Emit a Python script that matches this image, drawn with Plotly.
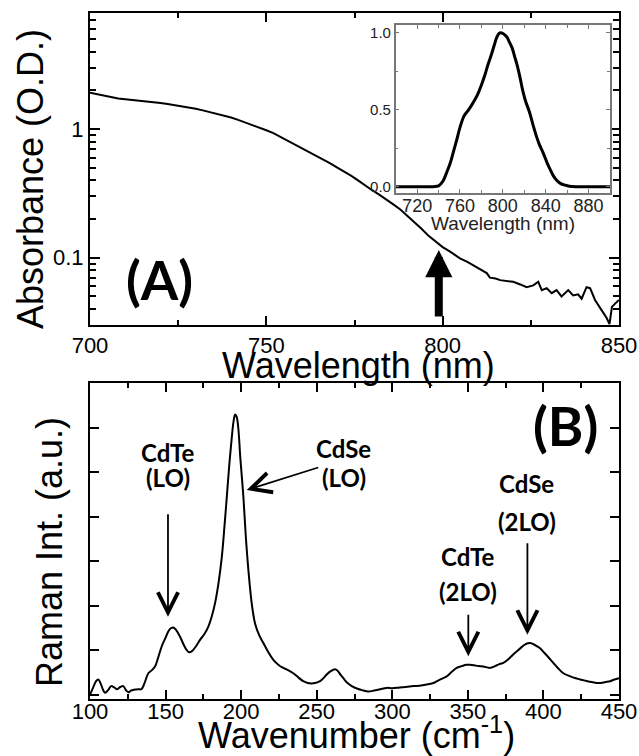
import plotly.graph_objects as go
import numpy as np

# ---------------- data ----------------
abs_wl = [700, 702, 704, 706, 708, 710, 712, 714, 716, 718, 720, 722, 724, 726, 728,
          730, 732, 734, 736, 738, 740, 742, 744, 746, 748, 750, 752, 754, 756, 758,
          760, 762, 764, 766, 768, 770, 772, 774, 776, 778, 780, 782, 784, 786, 788,
          790, 792, 794, 796, 798, 800, 802, 804.9, 807, 809.6, 811, 812.5, 813.4, 815,
          816.3, 818, 820, 822, 823.8, 825.7, 827.1, 828.1, 829.5, 830.9, 832.3, 833.7,
          835.6, 837, 838.4, 839.4, 840.8, 841.8, 843.2, 845.1, 846.5, 847.3, 848,
          848.9, 850]
abs_od = [1.92, 1.87, 1.82, 1.77, 1.73, 1.71, 1.69, 1.67, 1.64, 1.62, 1.60, 1.57, 1.54, 1.51, 1.48,
          1.44, 1.40, 1.36, 1.32, 1.27, 1.23, 1.18, 1.13, 1.08, 1.03, 0.98, 0.93, 0.87, 0.82, 0.77,
          0.72, 0.67, 0.63, 0.585, 0.545, 0.505, 0.47, 0.435, 0.40, 0.365, 0.335, 0.31, 0.285, 0.26, 0.237,
          0.212, 0.19, 0.168, 0.148, 0.133, 0.121, 0.112, 0.099, 0.093, 0.085, 0.081, 0.076, 0.070, 0.069,
          0.067, 0.066, 0.065, 0.062, 0.059, 0.061, 0.065, 0.056, 0.058, 0.053, 0.056, 0.050,
          0.056, 0.051, 0.052, 0.048, 0.059, 0.058, 0.047, 0.039, 0.034, 0.0305, 0.0415,
          0.044, 0.047]

pl_wl = [700, 720, 735, 740, 744, 748, 751, 754, 757, 760, 763.7, 767, 770, 773, 776.5,
         780, 783, 786, 789.4, 792, 794.2, 796.5, 798, 800, 802, 804, 806, 808.7, 811,
         813.5, 816, 818.3, 821, 824.8, 828, 831.2, 834, 837.6, 841, 844, 847, 850.4,
         854, 858, 862, 870, 900]
pl_int = [0, 0, 0, 0.005, 0.035, 0.10, 0.155, 0.23, 0.305, 0.385, 0.458, 0.49, 0.52, 0.555, 0.60,
          0.66, 0.72, 0.79, 0.86, 0.92, 0.968, 0.995, 1.0, 0.995, 0.985, 0.97, 0.94, 0.90, 0.845,
          0.785, 0.71, 0.632, 0.56, 0.485, 0.405, 0.33, 0.275, 0.22, 0.16, 0.114, 0.072, 0.04,
          0.02, 0.01, 0.003, 0, 0]

raman_wn = [100, 102, 104, 105.5, 107, 109, 110, 112, 114, 116, 118, 120, 122, 124, 125.5,
            127, 129, 132, 134, 136, 138.6, 141, 143, 145, 147.4, 150, 151.8, 153.5, 155.1,
            157, 159.6, 162, 164, 165.5, 167.3, 170, 172.8, 175.5, 178.3, 180.5, 182.7, 185,
            187.2, 189, 190.5, 192, 193.8, 195, 196, 197, 198.1, 199.5, 201.5, 203, 204.8,
            207, 209.2, 212, 214.7, 218, 221.3, 225, 227.9, 231, 234.5, 238, 241.1, 244,
            246.6, 249, 252.2, 254.5, 256.6, 259, 262.1, 264, 265.7, 267.6, 270, 273.2, 277,
            280, 284.2, 288, 292, 296.3, 300, 305, 309, 313.9, 318, 322, 327.2, 330, 333,
            336, 339, 342.6, 346, 349, 351.4, 354, 357, 360.2, 364.7, 368, 370.5, 373.5,
            377, 380, 382.3, 385, 388, 391.2, 394, 397.8, 400, 403, 406.6, 410, 413.2, 417,
            420, 424.3, 428, 432, 435.3, 438, 441, 444.1, 447, 450]
raman_int = [0.0, 0.15, 0.30, 0.34, 0.25, 0.08, 0.04, 0.10, 0.19, 0.16, 0.12, 0.17, 0.19, 0.09, 0.05,
             0.09, 0.11, 0.12, 0.12, 0.25, 0.48, 0.55, 0.63, 0.82, 1.08, 1.28, 1.42, 1.49, 1.51,
             1.45, 1.30, 1.12, 1.00, 0.95, 0.97, 1.08, 1.23, 1.35, 1.53, 1.75, 2.05, 2.5,
             3.09, 3.8, 4.44, 5.1, 5.78, 6.15, 6.3, 6.25, 6.0, 5.3, 4.44, 3.6, 2.8,
             2.05, 1.6, 1.33, 1.16, 0.95, 0.78, 0.66, 0.60, 0.55, 0.48, 0.38, 0.30, 0.26,
             0.25, 0.26, 0.30, 0.37, 0.45, 0.52, 0.57, 0.53, 0.45, 0.37, 0.27, 0.19, 0.13,
             0.10, 0.07, 0.09, 0.12, 0.15, 0.14, 0.16, 0.17, 0.19, 0.20, 0.22, 0.26, 0.31, 0.36,
             0.41, 0.50, 0.60, 0.64, 0.67, 0.67, 0.66, 0.64, 0.63, 0.60, 0.64, 0.68, 0.71,
             0.80, 0.90, 0.97, 1.05, 1.13, 1.16, 1.12, 1.04, 0.96, 0.85, 0.71, 0.58, 0.48, 0.42,
             0.38, 0.34, 0.31, 0.28, 0.26, 0.26, 0.28, 0.30, 0.34, 0.37]

top_xticks = [700, 750, 800, 850]
top_yticks = [0.1, 1]
top_yminor = [0.03, 0.04, 0.05, 0.06, 0.07, 0.08, 0.09,
              0.2, 0.3, 0.4, 0.5, 0.6, 0.7, 0.8, 0.9,
              2, 3, 4, 5, 6, 7, 8]
inset_xticks = [720, 760, 800, 840, 880]
inset_yticks = [0.0, 0.5, 1.0]
inset_yticklabels = ["0.0", "0.5", "1.0"]
bot_xticks = [100, 150, 200, 250, 300, 350, 400, 450]
bot_yticks = [0, 1, 2, 3, 4, 5, 6]

# peak labels: (text line 1, text line 2, label x, y1, y2, arrow tip x, tip y, ax, ay)
peak_labels = [
    ("CdTe", "(LO)", 151.6, 5.45, 4.89, 151.6, 1.75, 0, -104),
    ("CdSe", "(LO)", 268.0, 5.54, 4.89, 203.7, 4.60, 73, -23),
    ("CdTe", "(2LO)", 350.3, 3.10, 2.32, 350.3, 0.86, 0, -43),
    ("CdSe", "(2LO)", 388.9, 4.75, 3.89, 389.4, 1.345, 0, -93),
]

SANS = "Liberation Sans, Arial, sans-serif"
BOLD = "Lato, Open Sans, sans-serif"
TITLE_SIZE = 36

fig = go.Figure()
fig.add_trace(go.Scatter(x=abs_wl, y=abs_od, mode="lines",
                         line=dict(color="black", width=2), xaxis="x", yaxis="y",
                         showlegend=False))
fig.add_trace(go.Scatter(x=pl_wl, y=pl_int, mode="lines", line_shape="spline",
                         line=dict(color="black", width=3), xaxis="x3", yaxis="y3",
                         showlegend=False))
fig.add_trace(go.Scatter(x=raman_wn, y=raman_int, mode="lines", line_shape="spline",
                         line=dict(color="black", width=2), xaxis="x2", yaxis="y2",
                         showlegend=False))

axis_common = dict(showline=True, linecolor="black", linewidth=2, mirror="ticks",
                   ticks="inside", tickcolor="black", tickwidth=1.5, showgrid=False,
                   zeroline=False, tickfont=dict(family=SANS, size=22, color="black"))
inset_common = dict(showline=True, linecolor="#777777", linewidth=1.5, mirror="ticks",
                    ticks="inside", tickcolor="#777777", ticklen=4, showgrid=False,
                    zeroline=False)

fig.update_layout(
    width=639, height=756,
    margin=dict(l=90, r=20, t=13, b=57, autoexpand=False),
    paper_bgcolor="white", plot_bgcolor="white",
    font=dict(family=SANS, color="black"),
    xaxis=dict(domain=[0, 1], anchor="y", range=[700, 850], tickmode="array",
               tickvals=top_xticks, ticklen=9,
               minor=dict(ticks="inside", dtick=25, ticklen=5, tickcolor="black", tickwidth=1.5),
               **axis_common),
    yaxis=dict(domain=[0.5452, 1], anchor="x", type="log",
               range=[np.log10(0.03), np.log10(8)], tickmode="array",
               tickvals=top_yticks, ticktext=["0.1", "1"], ticklen=10,
               minor=dict(ticks="inside", tickmode="array", tickvals=top_yminor,
                          ticklen=6, tickcolor="black", tickwidth=1.5),
               **axis_common),
    xaxis2=dict(domain=[0, 1], anchor="y2", range=[100, 450], tickmode="array",
                tickvals=bot_xticks, ticklen=9, ticklabelstandoff=-8,
                minor=dict(ticks="inside", dtick=25, ticklen=5, tickcolor="black", tickwidth=1.5),
                **axis_common),
    yaxis2=dict(domain=[0, 0.4602], anchor="x2", range=[-0.1, 7], tickmode="array",
                tickvals=bot_yticks, ticklen=9, showticklabels=False,
                **axis_common),
    xaxis3=dict(domain=[0.5779, 0.983], anchor="y3", range=[700, 900], tickmode="array",
                tickvals=inset_xticks,
                minor=dict(ticks="inside", dtick=20, ticklen=3, tickcolor="#777777"),
                tickfont=dict(family=SANS, size=18, color="#222222"),
                ticklabelstandoff=-4,
                **inset_common),
    yaxis3=dict(domain=[0.7376, 0.9825], anchor="x3", range=[-0.041, 1.05], tickmode="array",
                tickvals=inset_yticks, ticktext=inset_yticklabels,
                minor=dict(ticks="inside", dtick=0.25, ticklen=3, tickcolor="#777777"),
                tickfont=dict(family=SANS, size=15, color="#222222"),
                **inset_common),
)

ann = []
# axis titles
ann.append(dict(text="Wavelength (nm)", xref="paper", yref="paper", x=0.5085, y=0.4862,
                xanchor="center", yanchor="middle", showarrow=False,
                font=dict(family=SANS, size=TITLE_SIZE, color="black")))
ann.append(dict(text="Wavenumber (cm<sup>-1</sup>)", xref="paper", yref="paper", x=0.503, y=-0.0496,
                xanchor="center", yanchor="middle", showarrow=False,
                font=dict(family=SANS, size=TITLE_SIZE, color="black")))
ann.append(dict(text="Absorbance (O.D.)", xref="paper", yref="paper", x=-0.1134, y=0.758,
                xanchor="center", yanchor="middle", showarrow=False, textangle=-90,
                font=dict(family=SANS, size=TITLE_SIZE, color="black")))
ann.append(dict(text="Raman Int. (a.u.)", xref="paper", yref="paper", x=-0.0756, y=0.2143,
                xanchor="center", yanchor="middle", showarrow=False, textangle=-90,
                font=dict(family=SANS, size=TITLE_SIZE, color="black")))
# inset axis title
ann.append(dict(text="Wavelength (nm)", xref="paper", yref="paper", x=0.7798, y=0.6925,
                xanchor="center", yanchor="middle", showarrow=False,
                font=dict(family=SANS, size=19, color="#222222")))
# panel letters
ann.append(dict(text="(A)", xref="x", yref="y", x=719.7, y=-1.166, showarrow=False,
                xanchor="center", yanchor="middle",
                font=dict(family=BOLD, size=54, color="black", weight="bold")))
ann.append(dict(text="(B)", xref="x2", yref="y2", x=414.3, y=6.04, showarrow=False,
                xanchor="center", yanchor="middle",
                font=dict(family=BOLD, size=54, color="black", weight="bold")))
# thick arrow at 800 nm
ann.append(dict(text="", xref="x", yref="y", x=798.9, y=-0.94, ax=0, ay=68,
                showarrow=True, arrowhead=2, arrowwidth=8, arrowsize=0.68,
                arrowcolor="black", standoff=0))
# peak labels
for t1, t2, lx, y1, y2, tx, ty, axp, ayp in peak_labels:
    for t, yy in ((t1, y1), (t2, y2)):
        ann.append(dict(text=t, xref="x2", yref="y2", x=lx, y=yy, showarrow=False,
                        xanchor="center", yanchor="middle",
                        font=dict(family=BOLD, size=24, color="black", weight="bold")))
    ann.append(dict(text="", xref="x2", yref="y2", x=tx, y=ty, ax=axp, ay=ayp,
                    showarrow=True, arrowhead=5, arrowwidth=1.8, arrowsize=2.2,
                    arrowcolor="black", standoff=0))

fig.update_layout(annotations=ann)
fig.write_html("out.html", config={"displayModeBar": False},
               post_script="document.body.style.margin='0';document.body.style.overflow='hidden';")
